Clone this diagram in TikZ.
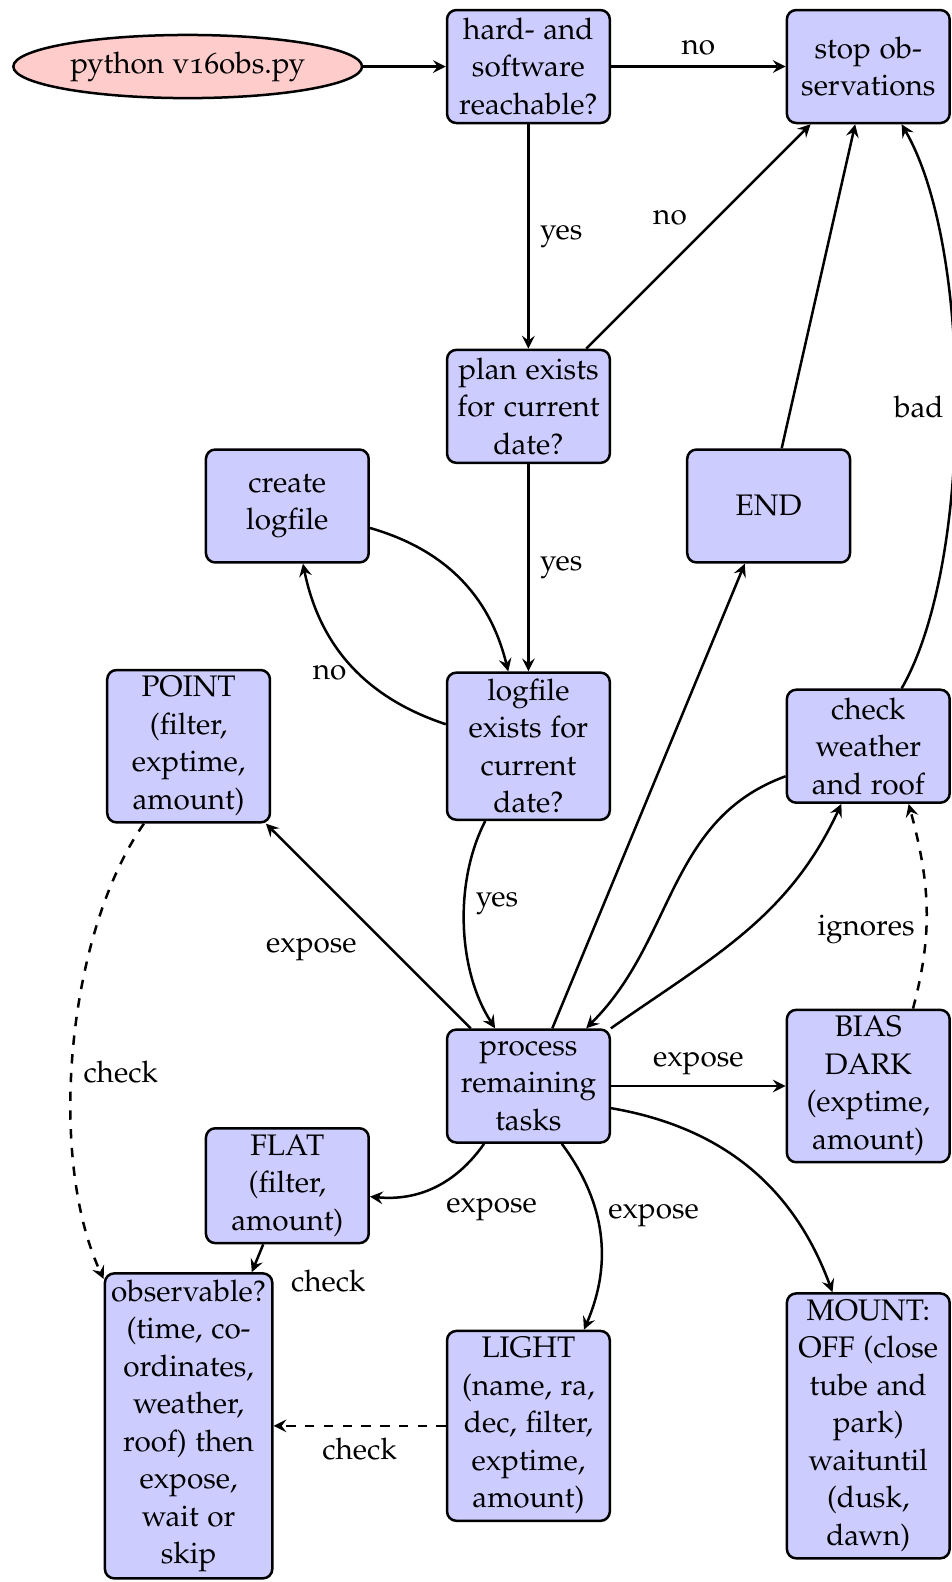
\documentclass[tikz,border=0pt]{standalone}
\usepackage[T1]{fontenc}
\usepackage[osf]{mathpazo}
\usetikzlibrary{positioning,shapes.geometric}

\begin{document}
\begin{tikzpicture}[thick,->,>=stealth,
    font=\fontsize{9.5pt}{12pt}\selectfont,
    node distance=3.82cm,on grid,
    task/.style={draw,rounded corners=3pt,fill=blue!20,align=center,
      minimum width=1.83cm,minimum height=1.27cm,inner sep=2pt},
    entry/.style={draw,ellipse,fill=red!20,minimum width=3.92cm,
      minimum height=0.71cm,inner sep=1pt}
  ]
  \useasboundingbox (-5.94,0.748) rectangle (4.761,-17.035);

  % the main column
  \node[task] (hard) {hard- and\\software\\reachable?};
  \node[entry,left=3.83cm of hard] (entry) {python v16obs.py};
  \node[task,right=of hard] (stop) {stop ob-\\servations};
  \node[task,below=of hard] (plan) {plan exists\\for current\\date?};
  \node[task,below=of plan] (logf) {logfile\\exists for\\current\\date?};
  \node[task,below=of logf] (proc) {process\\remaining\\tasks};
  \node[task,below=of proc] (light) {LIGHT\\(name, ra,\\dec, filter,\\exptime,\\amount)};

  % side boxes
  \node[task,below left=1.12cm and 2.71cm of plan] (create) {create\\logfile};
  \node[task,below right=1.12cm and 2.70cm of plan] (end) {END};
  \node[task,left=of logf] (point) {POINT\\(filter,\\exptime,\\amount)};
  \node[task,right=of logf] (weather) {check\\weather\\and roof};
  \node[task,right=of proc] (bias) {BIAS\\DARK\\(exptime,\\amount)};
  \node[task,below left=1.12cm and 2.71cm of proc] (flat) {FLAT\\(filter,\\amount)};
  \node[task,left=of light] (obs) {observable?\\(time, co-\\ordinates,\\weather,\\roof) then\\expose,\\wait or\\skip};
  \node[task,right=of light] (mount) {MOUNT:\\OFF (close\\tube and\\park)\\waituntil\\(dusk,\\dawn)};

  % startup checks
  \draw (entry) -- (hard);
  \draw (hard) -- node[above] {no} (stop);
  \draw (hard) -- node[right] {yes} (plan);
  \draw (plan) -- node[above left] {no} (stop);
  \draw (plan) -- node[right] {yes} (logf);
  \draw (logf) to[bend left=30] node[pos=0.45,left] {no} (create);
  \draw (create) to[bend left=30] (logf);
  \draw (logf) to[bend right=30,looseness=0.85] node[pos=0.4,right] {yes} (proc);

  % the task loop
  \draw (proc) -- node[below left] {expose} (point);
  \draw (proc) -- (end);
  \draw (end) -- (stop);
  \draw (weather) to[out=200,in=45] (proc);
  \draw (proc) to[out=35,in=245] (weather);
  \draw (weather) to[bend right=30,looseness=0.65] node[left] {bad} (stop);
  \draw[dashed] (bias.60) to[out=75,in=-75] node[pos=0.38,left] {ignores} (weather.-55);
  \draw (proc) -- node[above] {expose} (bias);
  \draw (proc) to[bend left=30] node[below right] {expose} (flat);
  \draw (proc) to[bend left=30] node[pos=0.4,right] {expose} (light);
  \draw (proc) to[bend left=30] (mount);

  % checks before exposing
  \draw[dashed] (point) to[bend right=30,looseness=0.75] node[pos=0.55,right] {check} (obs);
  \draw (flat) -- node[below right,xshift=7pt] {check} (obs);
  \draw[dashed] (light) -- node[below] {check} (obs);
\end{tikzpicture}
\end{document}
